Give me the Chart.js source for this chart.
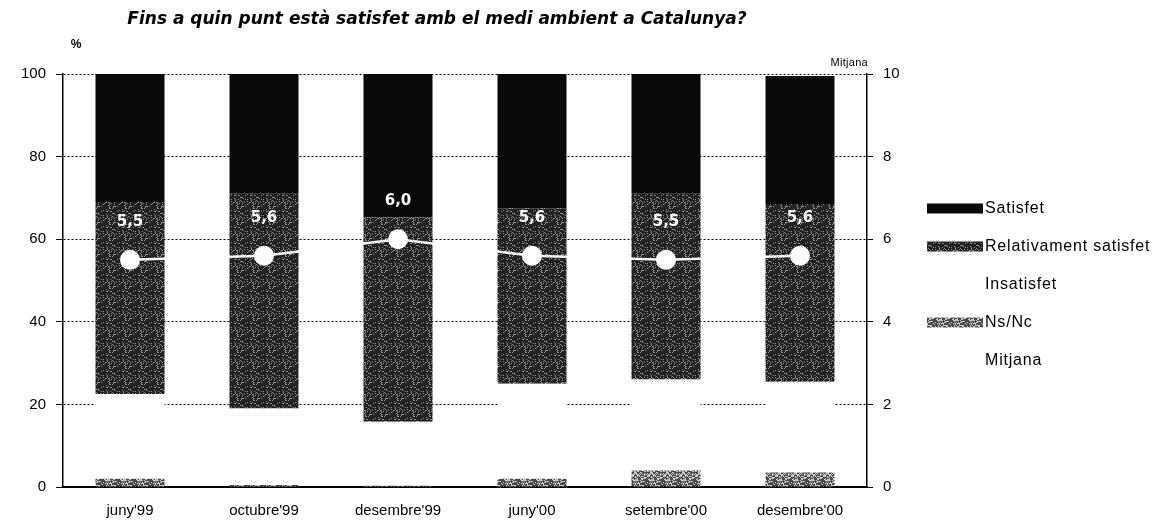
<!DOCTYPE html>
<html>
<head>
<meta charset="utf-8">
<script src="https://cdn.jsdelivr.net/npm/chart.js@4"></script>
<style>
  html, body { margin: 0; padding: 0; background: #fff; }
  #wrap { width: 1164px; height: 526px; }
</style>
</head>
<body>
<div id="wrap"><canvas id="chart"></canvas></div>
<script>
const categories = ["juny'99", "octubre'99", "desembre'99", "juny'00", "setembre'00", "desembre'00"];
const nsNc = [2, 0.5, 0.3, 2, 4, 3.5];
const insatisfet = [20.5, 18.5, 15.5, 23, 22, 22];
const relativament = [46.5, 52, 49.5, 42.5, 45, 43];
const satisfet = [31, 29, 34.7, 32.5, 29, 31];
const mitjana = [5.5, 5.6, 6.0, 5.6, 5.5, 5.6];
const percentTicks = [0, 20, 40, 60, 80, 100];
const mitjanaTicks = [0, 2, 4, 6, 8, 10];

const legendOrder = ['Satisfet', 'Relativament satisfet', 'Insatisfet', 'Ns/Nc', 'Mitjana'];

// speckled fill, like the scanned halftone (fixed hash, no randomness)
function speckle(base, dot, limit) {
    const c = document.createElement('canvas');
    c.width = 16; c.height = 16;
    const g = c.getContext('2d');
    g.fillStyle = base;
    g.fillRect(0, 0, 16, 16);
    g.fillStyle = dot;
    for (let y = 0; y < 16; y++) {
        for (let x = 0; x < 16; x++) {
            const h = ((x * 374761393 + y * 668265263) ^ (x * y * 1274126177)) >>> 0;
            if ((h % 100) < limit) g.fillRect(x, y, 1, 1);
        }
    }
    return g.createPattern(c, 'repeat');
}

const relFill = speckle('#222', '#8c8c8c', 18);
const nsFill = speckle('#4a4a4a', '#c8c8c8', 40);
const satFill = '#080808';

const sideTexts = {
    id: 'sideTexts',
    afterDraw(chart) {
        const { ctx, chartArea } = chart;
        ctx.save();
        ctx.fillStyle = '#000';
        ctx.textBaseline = 'middle';
        ctx.textAlign = 'center';
        ctx.font = 'italic bold 17px "DejaVu Sans"';
        ctx.fillText('Fins a quin punt està satisfet amb el medi ambient a Catalunya?', 437, 20);
        ctx.font = 'bold 12px "Liberation Sans"';
        ctx.fillText('%', 76, 45);
        ctx.font = '11px "Liberation Sans"';
        ctx.letterSpacing = '0.3px';
        ctx.textAlign = 'right';
        ctx.fillText('Mitjana', chartArea.right + 1, 63);
        ctx.restore();
    }
};

// legend drawn beside the plot, in the reference's order
const sideLegend = {
    id: 'sideLegend',
    afterDraw(chart) {
        const { ctx, chartArea } = chart;
        const items = chart.data.datasets.slice()
            .sort((a, b) => legendOrder.indexOf(a.label) - legendOrder.indexOf(b.label));
        const x0 = chartArea.right + 60;
        const yMid = (chartArea.top + chartArea.bottom) / 2 + 4;
        ctx.save();
        ctx.font = '16px "Liberation Sans"';
        ctx.letterSpacing = '0.8px';
        ctx.textBaseline = 'middle';
        ctx.textAlign = 'left';
        items.forEach((d, i) => {
            const y = yMid + (i - 2) * 38;
            if (d.type !== 'line') {
                ctx.fillStyle = d.backgroundColor;
                ctx.fillRect(x0, y - 5, 56, 10);
            }
            ctx.fillStyle = '#000';
            ctx.fillText(d.label, x0 + 58, y);
        });
        ctx.restore();
    }
};

const pointLabels = {
    id: 'pointLabels',
    afterDatasetsDraw(chart) {
        const { ctx } = chart;
        const idx = chart.data.datasets.findIndex(d => d.type === 'line');
        const meta = chart.getDatasetMeta(idx);
        ctx.save();
        ctx.fillStyle = '#fff';
        ctx.font = 'bold 15px "DejaVu Sans"';
        ctx.textAlign = 'center';
        ctx.textBaseline = 'middle';
        meta.data.forEach((pt, i) => {
            ctx.fillText(mitjana[i].toFixed(1).replace('.', ','), pt.x, pt.y - 38);
        });
        ctx.restore();
    }
};

const tickFont = { family: 'Liberation Sans', size: 15 };

new Chart(document.getElementById('chart'), {
    data: {
        labels: categories,
        datasets: [
            { type: 'line', label: 'Mitjana', data: mitjana, yAxisID: 'y1',
              borderColor: '#fff', backgroundColor: '#fff', borderWidth: 2.5,
              pointRadius: 10, pointHoverRadius: 10, pointBorderWidth: 0, order: 0 },
            { type: 'bar', label: 'Ns/Nc', data: nsNc, backgroundColor: nsFill, yAxisID: 'y', order: 1 },
            { type: 'bar', label: 'Insatisfet', data: insatisfet, backgroundColor: '#fff', yAxisID: 'y', order: 1 },
            { type: 'bar', label: 'Relativament satisfet', data: relativament, backgroundColor: relFill, yAxisID: 'y', order: 1 },
            { type: 'bar', label: 'Satisfet', data: satisfet, backgroundColor: satFill, yAxisID: 'y', order: 1 }
        ]
    },
    options: {
        responsive: true,
        maintainAspectRatio: false,
        animation: false,
        datasets: { bar: { categoryPercentage: 1, barPercentage: 0.515 } },
        layout: { padding: { top: 74, left: 0, right: 0, bottom: 0 } },
        plugins: {
            title: { display: false },
            tooltip: { enabled: false },
            legend: { display: false }
        },
        scales: {
            x: {
                stacked: true,
                afterFit(scale) { scale.height = 39; },
                grid: { display: false, drawTicks: false },
                border: { color: '#000', width: 2 },
                ticks: { color: '#000', font: tickFont, padding: 15 }
            },
            y: {
                stacked: true,
                position: 'left',
                min: 0, max: 100,
                afterFit(scale) { scale.width = 63; },
                afterBuildTicks(scale) { scale.ticks = percentTicks.map(v => ({ value: v })); },
                grid: { color: '#000', tickBorderDash: [], tickColor: '#000', tickLength: 7, lineWidth: 1 },
                border: { color: '#000', width: 1.5, dash: [2, 2] },
                ticks: { color: '#000', font: tickFont, padding: 10 }
            },
            y1: {
                position: 'right',
                min: 0, max: 10,
                afterFit(scale) { scale.width = 297; },
                afterBuildTicks(scale) { scale.ticks = mitjanaTicks.map(v => ({ value: v })); },
                grid: { drawOnChartArea: false, tickColor: '#000', tickLength: 6 },
                border: { color: '#000', width: 1.5 },
                ticks: { color: '#000', font: tickFont, padding: 10 }
            }
        }
    },
    plugins: [sideTexts, sideLegend, pointLabels]
});
</script>
</body>
</html>
